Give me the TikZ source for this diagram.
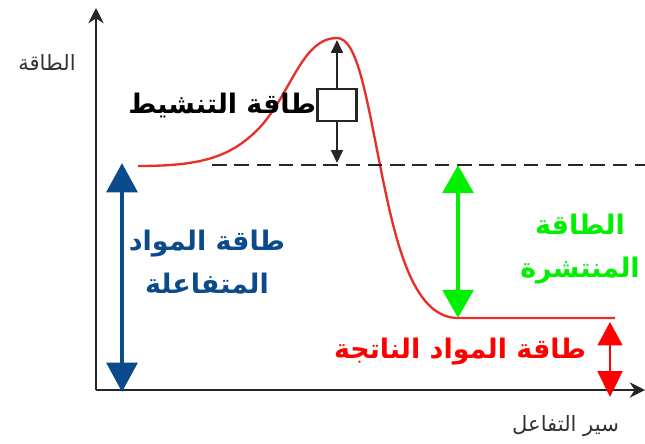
\documentclass[tikz,border=0pt]{standalone}
\usepackage{fontspec}
\usepackage{tikz}
\usetikzlibrary{arrows.meta,positioning}
\TeXXeTstate=1
\newfontfamily\arabicfont[Script=Arabic]{DejaVu Sans}
\definecolor{curvered}{HTML}{E8302A}
\definecolor{reacblue}{HTML}{0B4A8B}
\definecolor{relgreen}{HTML}{00F000}
\definecolor{prodred}{HTML}{FF0000}
\definecolor{axisgray}{HTML}{333333}

\tikzset{
  axis/.style={line width=2pt,draw=black!85,-{Stealth[length=13pt,width=13pt]}},
  biglbl/.style={font=\arabicfont\bfseries\fontsize{23}{36}\selectfont,
                 inner sep=0pt,align=center},
  axlbl/.style={font=\arabicfont\fontsize{18}{20}\selectfont,text=axisgray,
                inner sep=0pt},
  reacarrow/.style={draw=reacblue,line width=4pt,
    {Triangle[width=26pt,length=25pt]}-{Triangle[width=26pt,length=25pt]}},
  relarrow/.style={draw=relgreen,line width=4pt,
    {Triangle[width=26pt,length=24pt]}-{Triangle[width=26pt,length=24pt]}},
  prodarrow/.style={draw=prodred,line width=2.5pt,
    {Triangle[width=21pt,length=20pt]}-{Triangle[width=21pt,length=22pt]}},
  actarrow/.style={draw=black!85,line width=2pt,-{Triangle[width=10pt,length=11pt]}},
  actbox/.style={draw=black!85,fill=white,line width=2.2pt,minimum width=1.17cm,
                 minimum height=0.97cm,inner sep=0pt}
}

\begin{document}
\begin{tikzpicture}[x=0.03cm,y=-0.03cm]
  \useasboundingbox (0,0) rectangle (645,443);
  % axes
  \coordinate (O) at (96,390);
  \coordinate (ytop) at (96,8);
  \coordinate (xend) at (645,390);
  \draw[axis] (O) -- (ytop);
  \draw[axis] (O) -- (xend);
  \node[axlbl] (elab) at (47,62) {\beginR الطاقة\endR};
  \node[axlbl,anchor=west] (plab) at (512,426) {\beginR سير التفاعل\endR};

  % reaction path
  \coordinate (start) at (138,166);
  \coordinate (peak) at (337,38);
  \coordinate (prod) at (615,318);
  \draw[curvered,line width=2pt] (start)
    .. controls (200,166) and (232,158) .. (262,125)
    .. controls (292,90) and (303,38) .. (peak)
    .. controls (357,38) and (366,95) .. (380,165)
    .. controls (395,240) and (412,318) .. (458,318) -- (prod);
  \draw[black!85,line width=1.2pt,dash pattern=on 12.5pt off 6.5pt] (212,165) -- (645,165);

  % activation energy
  \coordinate (peaktip) at (337,40);
  \coordinate (reac) at (337,163);
  \node[actbox] (box) at (337,105) {};
  \draw[actarrow] (box.north) -- (peaktip);
  \draw[actarrow] (box.south) -- (reac);
  \node[biglbl,text=black,left=0pt of box] (actlbl) {\beginR طاقة التنشيط\endR};

  % reactants
  \coordinate (rtop) at (122,163);
  \coordinate (rbot) at (122,392);
  \draw[reacarrow] (rtop) -- (rbot);
  \node[biglbl,text=reacblue] (reaclbl) at (207,262)
    {\beginR طاقة المواد\endR\\\beginR المتفاعلة\endR};

  % released energy
  \coordinate (gtop) at (458,165);
  \coordinate (gbot) at (458,318);
  \draw[relarrow] (gtop) -- (gbot);
  \node[biglbl,text=relgreen] (rellbl) at (580,249)
    {\beginR الطاقة\endR\\\beginR المنتشرة\endR};

  % products
  \coordinate (ptop) at (610,322);
  \coordinate (pbot) at (610,397);
  \draw[prodarrow] (ptop) -- (pbot);
  \node[biglbl,text=prodred] (prodlbl) at (460,352)
    {\beginR طاقة المواد الناتجة\endR};
\end{tikzpicture}
\end{document}
